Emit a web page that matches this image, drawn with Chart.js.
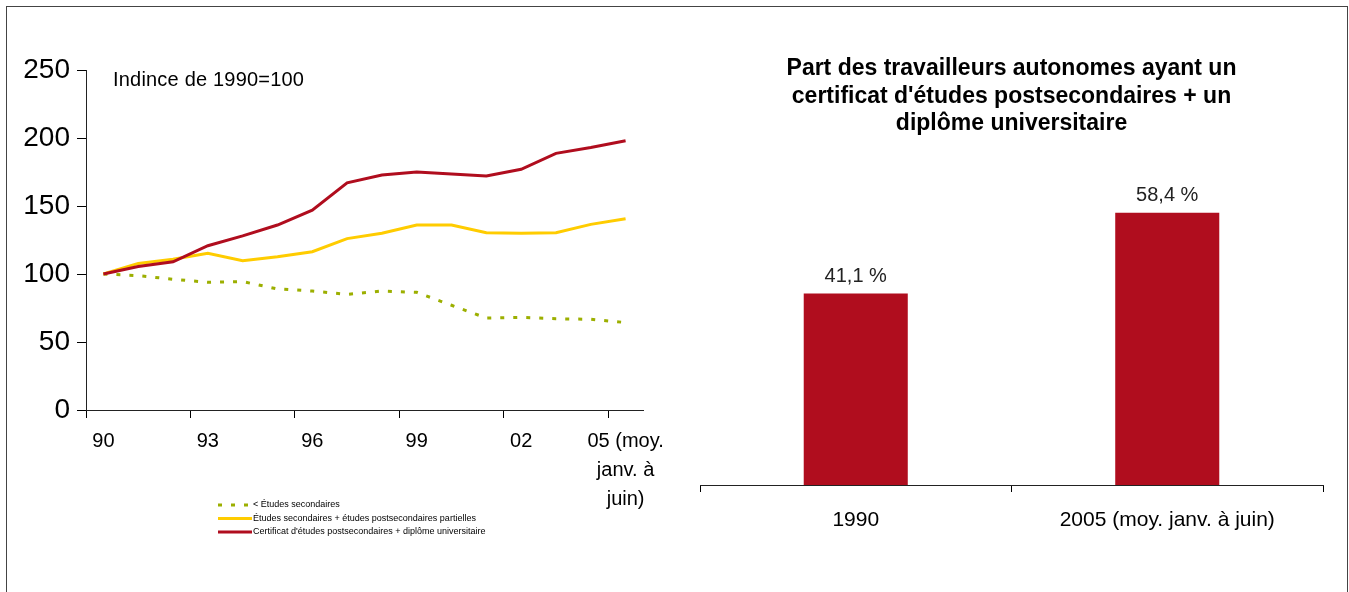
<!DOCTYPE html>
<html>
<head>
<meta charset="utf-8">
<script src="https://cdn.jsdelivr.net/npm/chart.js@4"></script>
<style>
html,body{margin:0;padding:0;background:#fff;}
body{width:1349px;height:592px;position:relative;overflow:hidden;font-family:"Liberation Sans",Arial,sans-serif;}
#frame{position:absolute;left:6px;top:6px;width:1342px;height:600px;border:1px solid #444;box-sizing:border-box;}
#c1wrap{position:absolute;left:0;top:0;width:680px;height:592px;}
#c2wrap{position:absolute;left:680px;top:0;width:669px;height:592px;}
#note{position:absolute;left:113px;top:68px;font-size:20px;line-height:22px;white-space:nowrap;color:#000;letter-spacing:0.2px;}
canvas{display:block;}
</style>
</head>
<body>
<div id="frame"></div>
<div id="c1wrap"><canvas id="c1" width="680" height="592"></canvas></div>
<div id="c2wrap"><canvas id="c2" width="669" height="592"></canvas></div>
<div id="note">Indince de 1990=100</div>
<script>
// ---------- Left chart data ----------
const years = ['1990','1991','1992','1993','1994','1995','1996','1997','1998','1999','2000','2001','2002','2003','2004','2005'];
const xTickLabels = ['90','','','93','','','96','','','99','','','02','','',['05 (moy.','janv. à','juin)']];
const lowerSecondary   = [100, 98.8, 96.1, 93.9, 94.4, 89.0, 87.5, 85.0, 87.5, 86.5, 77.0, 67.6, 68.1, 67.1, 66.7, 64.3];
const secondaryPartial = [100, 107.8, 110.8, 115.2, 109.8, 112.7, 116.4, 126.0, 130.0, 136.0, 136.0, 130.4, 130.0, 130.4, 136.5, 140.7];
const postsecUniv      = [100, 105.5, 109.0, 120.8, 128.0, 136.0, 147.0, 167.0, 172.8, 175.0, 173.5, 172.0, 177.0, 188.7, 193.0, 198.0];
const seriesNames = ['< Études secondaires', 'Études secondaires + études postsecondaires partielles', 'Certificat d\'études postsecondaires + diplôme universitaire'];

// ---------- Right chart data ----------
const barCategories = ['1990', '2005 (moy. janv. à juin)'];
const barValues = [41.1, 58.4];
const barValueLabels = ['41,1 %', '58,4 %'];
const rightTitle = ["Part des travailleurs autonomes ayant un", "certificat d'études postsecondaires + un", "diplôme universitaire"];

const GREEN = '#9CAF00', YELLOW = '#FFCC00', RED = '#B00D1E';

const legendPlugin = {
  id: 'customLegend',
  afterDraw(chart, args, opts) {
    const ctx = chart.ctx;
    ctx.save();
    chart.data.datasets.forEach((ds, i) => {
      const y = opts.y + i * opts.spacing;
      ctx.beginPath();
      ctx.setLineDash(ds.borderDash || []);
      ctx.lineCap = 'butt';
      ctx.strokeStyle = ds.borderColor;
      ctx.lineWidth = ds.borderWidth;
      ctx.moveTo(opts.x, y);
      ctx.lineTo(opts.x + opts.lineLen, y);
      ctx.stroke();
      ctx.setLineDash([]);
      ctx.fillStyle = '#000';
      ctx.font = '9px "Liberation Sans", Arial, sans-serif';
      ctx.textBaseline = 'middle';
      ctx.textAlign = 'left';
      ctx.fillText(ds.label, opts.x + opts.lineLen + 1, y);
    });
    ctx.restore();
  }
};

new Chart(document.getElementById('c1'), {
  type: 'line',
  data: {
    labels: years,
    datasets: [
      { label: seriesNames[0], data: lowerSecondary, borderColor: GREEN, backgroundColor: GREEN, borderWidth: 3, borderDash: [4, 9], order: 2 },
      { label: seriesNames[1], data: secondaryPartial, borderColor: YELLOW, backgroundColor: YELLOW, borderWidth: 3, order: 1 },
      { label: seriesNames[2], data: postsecUniv, borderColor: RED, backgroundColor: RED, borderWidth: 3, order: 0 }
    ]
  },
  options: {
    responsive: false,
    animation: false,
    events: [],
    elements: { point: { radius: 0 }, line: { tension: 0, borderCapStyle: 'butt' } },
    layout: { padding: { top: 70, left: 0, right: 37, bottom: 0 } },
    scales: {
      x: {
        offset: true,
        grid: {
          offset: true, drawOnChartArea: false, drawTicks: true, tickLength: 8, lineWidth: 1,
          color: (c) => (c.index % 3 === 0 ? '#000' : 'rgba(0,0,0,0)')
        },
        border: { color: '#222', width: 1 },
        ticks: {
          autoSkip: false, maxRotation: 0, minRotation: 0, padding: 9,
          color: '#000', font: { family: '"Liberation Sans", Arial, sans-serif', size: 20, lineHeight: 1.45 },
          callback: (v, i) => xTickLabels[i]
        },
        afterFit: (s) => { s.height = 182; }
      },
      y: {
        min: 0, max: 250,
        grid: { drawOnChartArea: false, drawTicks: true, tickLength: 9, color: '#000' },
        border: { color: '#222', width: 1 },
        ticks: { stepSize: 50, padding: 7, color: '#000', font: { family: '"Liberation Sans", Arial, sans-serif', size: 28 } },
        afterFit: (s) => { s.width = 86; }
      }
    },
    plugins: {
      legend: { display: false },
      tooltip: { enabled: false },
      customLegend: { x: 218, y: 505, spacing: 13.5, lineLen: 34 }
    }
  },
  plugins: [legendPlugin]
});

const barLabelPlugin = {
  id: 'barValueLabels',
  afterDatasetsDraw(chart) {
    const ctx = chart.ctx;
    const meta = chart.getDatasetMeta(0);
    ctx.save();
    ctx.fillStyle = '#222';
    ctx.font = '20px "Liberation Sans", Arial, sans-serif';
    ctx.textAlign = 'center';
    ctx.textBaseline = 'middle';
    meta.data.forEach((bar, i) => {
      ctx.fillText(barValueLabels[i], bar.x, bar.y - 17);
    });
    ctx.restore();
  }
};

new Chart(document.getElementById('c2'), {
  type: 'bar',
  data: {
    labels: barCategories,
    datasets: [{ data: barValues, backgroundColor: RED, borderWidth: 0, categoryPercentage: 1, barPercentage: 0.334 }]
  },
  options: {
    responsive: false,
    animation: false,
    events: [],
    layout: { padding: { top: 0, left: 20, right: 26, bottom: 0 } },
    scales: {
      x: {
        offset: true,
        grid: { offset: true, drawOnChartArea: false, drawTicks: true, tickLength: 7, color: '#000' },
        border: { color: '#222', width: 1 },
        ticks: { maxRotation: 0, padding: 16, color: '#000', font: { family: '"Liberation Sans", Arial, sans-serif', size: 21 } },
        afterFit: (s) => { s.height = 107; }
      },
      y: { display: false, min: 0, max: 70 }
    },
    plugins: {
      legend: { display: false },
      tooltip: { enabled: false },
      title: {
        display: true, text: rightTitle, color: '#000',
        font: { family: '"Liberation Sans", Arial, sans-serif', size: 23, weight: 'bold', lineHeight: 1.2 },
        padding: { top: 55, bottom: 21 }
      }
    }
  },
  plugins: [barLabelPlugin]
});
</script>
</body>
</html>
